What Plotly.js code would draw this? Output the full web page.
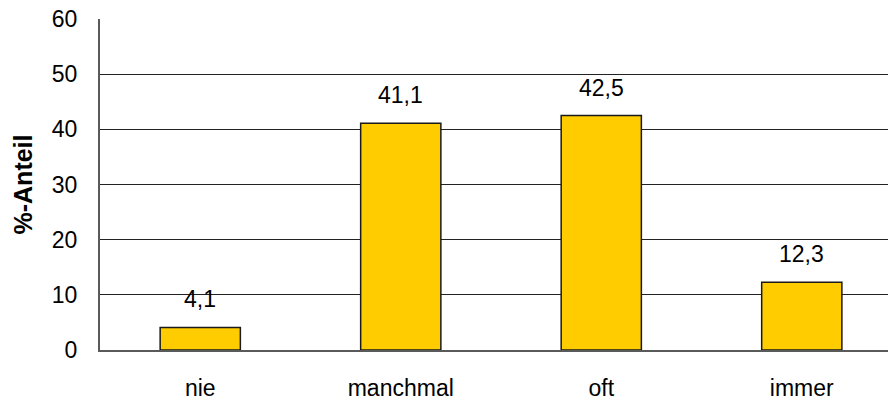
<!DOCTYPE html>
<html>
<head>
<meta charset="utf-8">
<script src="https://cdn.plot.ly/plotly-3.0.1.min.js"></script>
<style>
  html, body { margin: 0; padding: 0; background: #fff; }
  #chart { width: 888px; height: 403px; }
</style>
</head>
<body>
<div id="chart"></div>
<script>
// Antworthäufigkeit in Prozent
const categories = ['nie', 'manchmal', 'oft', 'immer'];
const shares = [4.1, 41.1, 42.5, 12.3];
const yTicks = [0, 10, 20, 30, 40, 50, 60];

const fontFamily = 'Liberation Sans, Arial, sans-serif';
const textSize = 23;

const trace = {
  type: 'bar',
  x: categories,
  y: shares,
  width: 0.4,
  marker: { color: '#FFCC00', line: { color: '#1a1a1a', width: 1.5 } },
  hoverinfo: 'skip'
};

// Wertbeschriftung über jedem Balken (Dezimalkomma)
const labels = categories.map((c, i) => ({
  x: c,
  y: shares[i],
  xref: 'x',
  yref: 'y',
  text: shares[i].toFixed(1).replace('.', ','),
  showarrow: false,
  yanchor: 'bottom',
  yshift: 13,
  font: { family: fontFamily, size: textSize, color: '#000' }
}));

const layout = {
  width: 888,
  height: 403,
  margin: { l: 100, r: 0, t: 19, b: 53, pad: 0 },
  paper_bgcolor: '#fff',
  plot_bgcolor: '#fff',
  separators: ',.',
  showlegend: false,
  font: { family: fontFamily, size: textSize, color: '#000' },
  xaxis: {
    type: 'category',
    range: [-0.5, 3.43],
    showgrid: false,
    showline: true,
    linecolor: '#5a5a5a',
    linewidth: 2,
    ticks: 'outside',
    ticklen: 16,
    tickcolor: 'rgba(0,0,0,0)',
    tickfont: { family: fontFamily, size: textSize, color: '#000' },
    fixedrange: true
  },
  yaxis: {
    range: [0, 60],
    tickvals: yTicks,
    ticktext: yTicks.map(String),
    showgrid: true,
    gridcolor: '#222',
    gridwidth: 1,
    zeroline: false,
    showline: true,
    linecolor: '#5a5a5a',
    linewidth: 2,
    ticks: 'outside',
    ticklen: 16,
    tickcolor: 'rgba(0,0,0,0)',
    tickfont: { family: fontFamily, size: textSize, color: '#000' },
    title: {
      text: '<b>%-Anteil</b>',
      font: { family: fontFamily, size: 25, color: '#000' },
      standoff: 12
    },
    fixedrange: true
  },
  annotations: labels
};

Plotly.newPlot('chart', [trace], layout, { staticPlot: true, displayModeBar: false });
</script>
</body>
</html>
